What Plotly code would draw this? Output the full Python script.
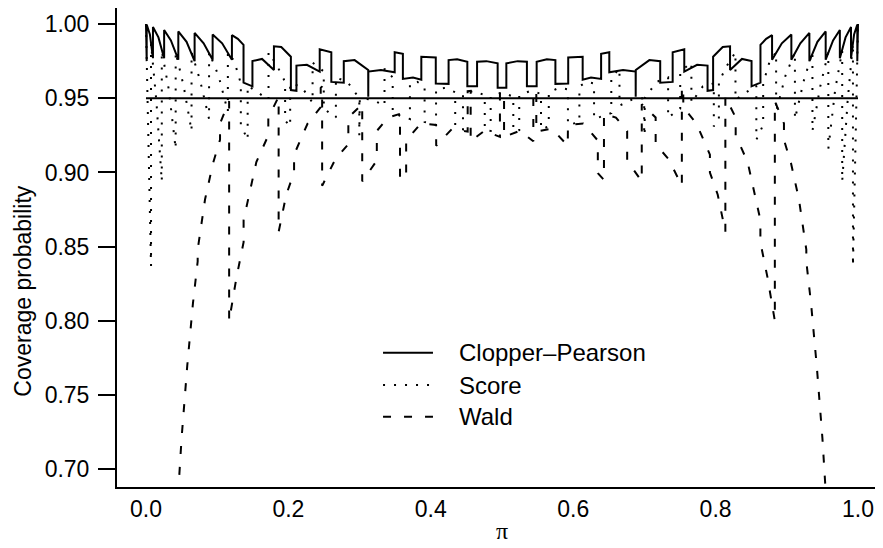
import plotly.graph_objects as go

# ---------------- data ----------------
cp_pi = [0.0, 0.001, 0.001, 0.0055, 0.0098, 0.0098, 0.0175, 0.0255, 0.0255, 0.035,
         0.0454, 0.0454, 0.057, 0.0683, 0.0683, 0.081, 0.0936, 0.0936, 0.107, 0.1207,
         0.1207, 0.129, 0.137, 0.137, 0.1495, 0.1495, 0.163, 0.1797, 0.1797, 0.19,
         0.2035, 0.2035, 0.2113, 0.2113, 0.226, 0.244, 0.244, 0.2603, 0.2603, 0.2778,
         0.2778, 0.293, 0.3121, 0.3122, 0.3123, 0.33, 0.3493, 0.3493, 0.3608, 0.3608,
         0.375, 0.3867, 0.3867, 0.407, 0.407, 0.425, 0.425, 0.437, 0.4513, 0.4513,
         0.465, 0.465, 0.478, 0.4939, 0.4939, 0.5,
         0.5061, 0.5061, 0.522, 0.535, 0.535, 0.5487, 0.5487, 0.563, 0.575, 0.575,
         0.593, 0.593, 0.6133, 0.6133, 0.625, 0.6392, 0.6392, 0.6507, 0.6507, 0.67,
         0.6877, 0.6878, 0.6879, 0.707, 0.7222, 0.7222, 0.7397, 0.7397, 0.756, 0.756,
         0.774, 0.7887, 0.7887, 0.7965, 0.7965, 0.81, 0.8203, 0.8203, 0.837, 0.8505,
         0.8505, 0.863, 0.863, 0.871, 0.8793, 0.8793, 0.893, 0.9064, 0.9064, 0.919,
         0.9317, 0.9317, 0.943, 0.9546, 0.9546, 0.965, 0.9745, 0.9745, 0.9825, 0.9902,
         0.9902, 0.9945, 0.999, 0.999, 1.0]
cp_cov = [1.0, 0.975, 0.9997, 0.993, 0.977, 0.998, 0.991, 0.977, 0.996, 0.989,
          0.976, 0.995, 0.988, 0.975, 0.994, 0.987, 0.976, 0.993, 0.987, 0.976,
          0.9925, 0.990, 0.986, 0.9605, 0.958, 0.975, 0.9765, 0.969, 0.985, 0.9845,
          0.978, 0.9555, 0.955, 0.972, 0.9725, 0.968, 0.983, 0.981, 0.961, 0.9605,
          0.975, 0.9757, 0.969, 0.951, 0.968, 0.969, 0.9675, 0.981, 0.980, 0.963,
          0.964, 0.9625, 0.978, 0.9775, 0.960, 0.9597, 0.9757, 0.9762, 0.9746, 0.958,
          0.958, 0.9746, 0.975, 0.9735, 0.957, 0.957,
          0.957, 0.9735, 0.975, 0.9746, 0.958, 0.958, 0.9746, 0.9762, 0.9757, 0.9597,
          0.960, 0.9775, 0.978, 0.9625, 0.964, 0.963, 0.980, 0.981, 0.9675, 0.969,
          0.968, 0.951, 0.969, 0.9757, 0.975, 0.9605, 0.961, 0.981, 0.983, 0.968,
          0.9725, 0.972, 0.955, 0.9555, 0.978, 0.9845, 0.985, 0.969, 0.9765, 0.975,
          0.958, 0.9605, 0.986, 0.990, 0.9925, 0.976, 0.987, 0.993, 0.976, 0.987,
          0.994, 0.975, 0.988, 0.995, 0.976, 0.989, 0.996, 0.977, 0.991, 0.998,
          0.977, 0.993, 0.9997, 0.975, 1.0]

score_pi = [0.0, 0.0035, 0.0071, 0.0071, 0.0146, 0.0222, 0.0222, 0.032, 0.0417, 0.0417,
            0.053, 0.064, 0.064, 0.076, 0.0886, 0.0886, 0.102, 0.115, 0.115, 0.124,
            0.1332, 0.1332, 0.1428, 0.1428, 0.157, 0.1721, 0.1721, 0.184, 0.1954, 0.1954,
            0.2025, 0.2025, 0.218, 0.234, 0.234, 0.2497, 0.2497, 0.2667, 0.2667, 0.283,
            0.2996, 0.2996, 0.3003, 0.3003, 0.318, 0.335, 0.335, 0.3465, 0.3465, 0.3707,
            0.3707, 0.381, 0.3913, 0.3913, 0.4074, 0.4074, 0.42, 0.4343, 0.4343, 0.4452,
            0.4452, 0.46, 0.4758, 0.4758, 0.4841, 0.4841, 0.5,
            0.5159, 0.5159, 0.5242, 0.5242, 0.54, 0.5548, 0.5548, 0.5657, 0.5657, 0.58,
            0.5926, 0.5926, 0.6087, 0.6087, 0.619, 0.6293, 0.6293, 0.6535, 0.6535, 0.665,
            0.665, 0.682, 0.6997, 0.6997, 0.7004, 0.7004, 0.717, 0.7333, 0.7333, 0.7503,
            0.7503, 0.766, 0.766, 0.782, 0.7975, 0.7975, 0.8046, 0.8046, 0.816, 0.8279,
            0.8279, 0.843, 0.8572, 0.8572, 0.8668, 0.8668, 0.876, 0.885, 0.885, 0.898,
            0.9114, 0.9114, 0.924, 0.936, 0.936, 0.947, 0.9583, 0.9583, 0.968, 0.9778,
            0.9778, 0.9854, 0.9929, 0.9929, 0.9965, 1.0]
score_cov = [1.0, 0.916, 0.837, 0.987, 0.948, 0.894, 0.982, 0.956, 0.916, 0.981,
             0.958, 0.928, 0.981, 0.962, 0.936, 0.981, 0.965, 0.941, 0.981, 0.975,
             0.960, 0.932, 0.922, 0.9585, 0.954, 0.949, 0.981, 0.972, 0.961, 0.935,
             0.931, 0.960, 0.958, 0.947, 0.974, 0.968, 0.943, 0.937, 0.964, 0.961,
             0.950, 0.925, 0.925, 0.950, 0.949, 0.945, 0.970, 0.964, 0.940, 0.936,
             0.960, 0.961, 0.958, 0.934, 0.932, 0.956, 0.957, 0.954, 0.931, 0.929,
             0.953, 0.955, 0.952, 0.9285, 0.928, 0.951, 0.954,
             0.951, 0.928, 0.9285, 0.952, 0.955, 0.953, 0.929, 0.931, 0.954, 0.957,
             0.956, 0.932, 0.934, 0.958, 0.961, 0.960, 0.936, 0.940, 0.964, 0.970,
             0.945, 0.949, 0.950, 0.925, 0.925, 0.950, 0.961, 0.964, 0.937, 0.943,
             0.968, 0.974, 0.947, 0.958, 0.960, 0.931, 0.935, 0.961, 0.972, 0.981,
             0.949, 0.954, 0.9585, 0.922, 0.932, 0.960, 0.975, 0.981, 0.941, 0.965,
             0.981, 0.936, 0.962, 0.981, 0.928, 0.958, 0.981, 0.916, 0.956, 0.982,
             0.894, 0.948, 0.987, 0.837, 0.916, 1.0]

wald_pi = [0.0432, 0.05, 0.058, 0.066, 0.0726, 0.0726, 0.083, 0.094, 0.104, 0.104,
           0.1168, 0.1168, 0.127, 0.1371, 0.1371, 0.155, 0.1718, 0.1718, 0.1863, 0.1863,
           0.197, 0.208, 0.208, 0.227, 0.2454, 0.2454, 0.2474, 0.2474, 0.266, 0.2842,
           0.2842, 0.3037, 0.3037, 0.3242, 0.3242, 0.34, 0.3568, 0.3568, 0.3654, 0.3654,
           0.386, 0.4074, 0.4076, 0.43, 0.4518, 0.4518, 0.456, 0.456, 0.475, 0.4971,
           0.4971, 0.5,
           0.5029, 0.5029, 0.525, 0.544, 0.544, 0.5482, 0.5482, 0.57, 0.5924, 0.5926,
           0.614, 0.6346, 0.6346, 0.6432, 0.6432, 0.66, 0.6758, 0.6758, 0.6963, 0.6963,
           0.7158, 0.7158, 0.734, 0.7526, 0.7526, 0.7546, 0.7546, 0.773, 0.792, 0.792,
           0.803, 0.8137, 0.8137, 0.8282, 0.8282, 0.845, 0.8629, 0.8629, 0.873, 0.8832,
           0.8832, 0.896, 0.896, 0.906, 0.917, 0.9274, 0.9274, 0.934, 0.942, 0.95, 0.9568]
wald_cov = [0.668, 0.721, 0.770, 0.812, 0.840, 0.848, 0.882, 0.906, 0.922, 0.933,
            0.948, 0.800, 0.829, 0.853, 0.868, 0.907, 0.925, 0.937, 0.951, 0.860,
            0.885, 0.900, 0.912, 0.933, 0.944, 0.957, 0.958, 0.891, 0.909, 0.919,
            0.937, 0.946, 0.894, 0.908, 0.928, 0.937, 0.9395, 0.895, 0.8995, 0.9215,
            0.933, 0.932, 0.918, 0.9295, 0.9275, 0.9548, 0.955, 0.921, 0.928, 0.924,
            0.954, 0.954,
            0.954, 0.924, 0.928, 0.921, 0.955, 0.9548, 0.9275, 0.9295, 0.918, 0.932,
            0.933, 0.9215, 0.8995, 0.895, 0.9395, 0.937, 0.928, 0.908, 0.894, 0.946,
            0.937, 0.919, 0.909, 0.891, 0.958, 0.957, 0.944, 0.933, 0.912, 0.900,
            0.885, 0.860, 0.951, 0.937, 0.925, 0.907, 0.868, 0.853, 0.829, 0.800,
            0.948, 0.933, 0.922, 0.906, 0.882, 0.848, 0.840, 0.812, 0.770, 0.721, 0.668]

nominal_pi = [0.0, 1.0]
nominal_cov = [0.95, 0.95]

x_ticks = [0.0, 0.2, 0.4, 0.6, 0.8, 1.0]
x_ticktext = ["0.0", "0.2", "0.4", "0.6", "0.8", "1.0"]
y_ticks = [0.70, 0.75, 0.80, 0.85, 0.90, 0.95, 1.00]
y_ticktext = ["0.70", "0.75", "0.80", "0.85", "0.90", "0.95", "1.00"]

series_names = ["Clopper\u2013Pearson", "Score", "Wald"]

# ---------------- figure ----------------
FONT = "Liberation Sans, Arial, Helvetica, sans-serif"
SERIF = "Liberation Serif, DejaVu Serif, serif"
fig = go.Figure()

fig.add_trace(go.Scatter(x=nominal_pi, y=nominal_cov, mode="lines",
                         line=dict(color="black", width=2), name="0.95",
                         showlegend=False, hoverinfo="skip"))
fig.add_trace(go.Scatter(x=cp_pi, y=cp_cov, mode="lines",
                         line=dict(color="black", width=2), name=series_names[0],
                         showlegend=False))
fig.add_trace(go.Scatter(x=score_pi, y=score_cov, mode="lines",
                         line=dict(color="black", width=2, dash="2px,9px"),
                         name=series_names[1], showlegend=False))
fig.add_trace(go.Scatter(x=wald_pi, y=wald_cov, mode="lines",
                         line=dict(color="black", width=2, dash="8px,13px"),
                         name=series_names[2], showlegend=False))

# legend key (drawn like the original, inside the plot)
leg_y = [0.2804, 0.2129, 0.1468]
leg_dash = ["solid", "2px,9px", "8px,13px"]
for name, yy, dsh in zip(series_names, leg_y, leg_dash):
    fig.add_shape(type="line", xref="paper", yref="paper",
                  x0=0.3473, x1=0.4125, y0=yy, y1=yy,
                  line=dict(color="black", width=2, dash=dsh))
    fig.add_annotation(text=name, xref="paper", yref="paper", x=0.4435, y=yy,
                       xanchor="left", yanchor="middle", showarrow=False,
                       font=dict(family=FONT, size=24, color="black"))

# axis titles
fig.add_annotation(text="Coverage probability", xref="paper", yref="paper",
                   x=-0.122, y=0.409, textangle=-90, showarrow=False,
                   xanchor="center", yanchor="middle",
                   font=dict(family=FONT, size=23, color="black"))
fig.add_annotation(text="\u03c0", xref="paper", yref="paper",
                   x=0.5026, y=-0.1232, showarrow=False,
                   xanchor="center", yanchor="bottom",
                   font=dict(family=SERIF, size=24, color="black"))

# the page body has an 8px margin: the figure is sized so that it fills the window
fig.update_layout(
    width=875, height=540,
    margin=dict(l=109, r=0, t=0, b=61, autoexpand=False),
    plot_bgcolor="white", paper_bgcolor="white",
    showlegend=False,
    font=dict(family=FONT, size=23, color="black"),
    xaxis=dict(range=[-0.0407, 1.0351], showline=True, linecolor="black",
               linewidth=2, ticks="", tickvals=x_ticks, ticktext=x_ticktext,
               showgrid=False, zeroline=False, ticklabelstandoff=0,
               tickfont=dict(family=FONT, size=23, color="black")),
    yaxis=dict(range=[0.6881, 1.0108], showline=True, linecolor="black",
               linewidth=2, ticks="outside", ticklen=17, tickwidth=1.5,
               tickcolor="black", tickvals=y_ticks, ticktext=y_ticktext,
               showgrid=False, zeroline=False, ticklabelstandoff=4,
               tickfont=dict(family=FONT, size=23, color="black")),
)

fig.write_html("out.html")
